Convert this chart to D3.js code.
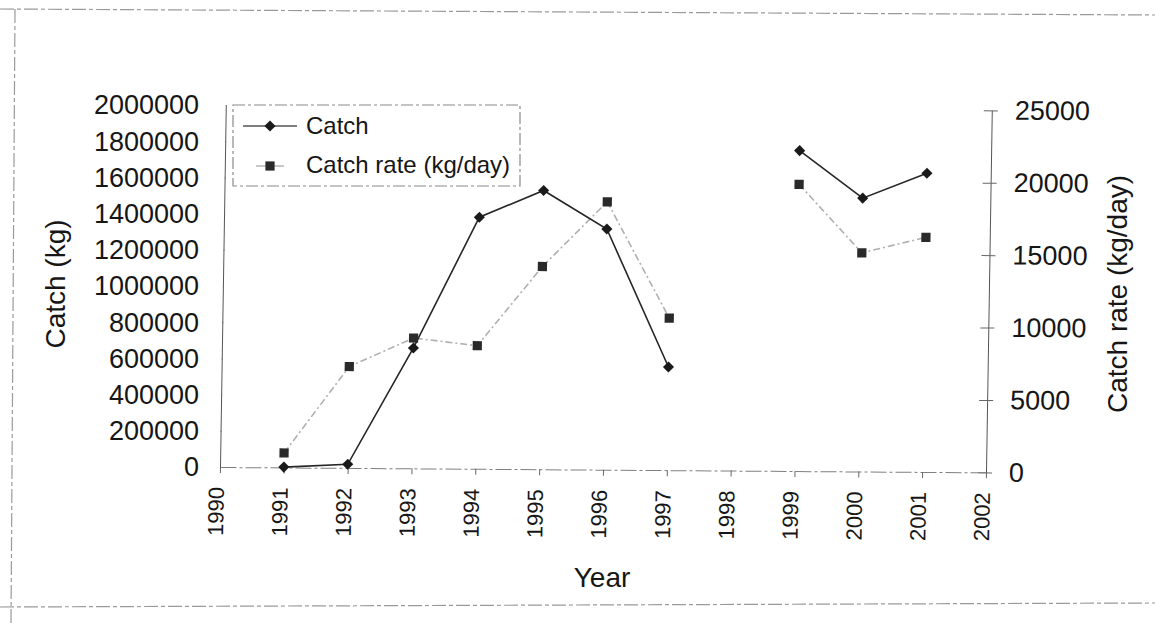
<html>
<script src='https://d3js.org/d3.v7.min.js'></script>
<head>
    <style>
        body { margin: 0; background: #fff; }
        text { font-family: "Liberation Sans", Arial, sans-serif; fill: #161616; }
    </style>
</head>
<body>
<svg width=1155 height=623></svg>
<script>
// values
const years = [1991, 1992, 1993, 1994, 1995, 1996, 1997, 1998, 1999, 2000, 2001];
const catchKg = [2000, 20000, 665000, 1390000, 1540000, 1330000, 570000, null, 1770000, 1510000, 1650000];
const catchRate = [1000, 7000, 9000, 8500, 14000, 18500, 10500, null, 19800, 15100, 16200];

const yearTicks = [1990, 1991, 1992, 1993, 1994, 1995, 1996, 1997, 1998, 1999, 2000, 2001, 2002];
const leftTicks = [0, 200000, 400000, 600000, 800000, 1000000, 1200000, 1400000, 1600000, 1800000, 2000000];
const rightTicks = [0, 5000, 10000, 15000, 20000, 25000];

const x0 = 220, x1 = 986, yBottom = 467, yTop = 105;

const svg = d3.select("svg");

// faint frame of the scanned page
svg.append("path")
    .attr("d", "M0,9 L1155,15 M15,9 L11,623 M0,607 L1155,603")
    .attr("fill", "none")
    .attr("stroke", "#9a9a9a")
    .attr("stroke-width", 1.2)
    .attr("stroke-dasharray", "14,3,4,3");

const xs = d3.scaleLinear().domain([1990, 2002]).range([x0, x1]);
const yL = d3.scaleLinear().domain([0, 2000000]).range([yBottom, yTop]);
const yR = d3.scaleLinear().domain([0, 25000]).range([yBottom, yTop]);

// the scan is a little skewed, mimic that on the plot area
var plot = svg.append("g")
    .attr("transform", "translate(" + x0 + "," + yBottom + ") matrix(1,0.007,-0.016,1,0,0) translate(" + (-x0) + "," + (-yBottom) + ")");

// left axis (line + ticks only)
var leftAxis = plot.append("g")
    .attr("transform", "translate(" + x0 + ",0)")
    .call(d3.axisLeft(yL).tickValues(leftTicks).tickFormat("").tickSizeInner(7).tickSizeOuter(0));
leftAxis.select(".domain").attr("stroke", "#555");
leftAxis.selectAll(".tick line").attr("stroke", "#666").attr("x2", 1);

// right axis
var rightAxis = plot.append("g")
    .attr("transform", "translate(" + x1 + ",0)")
    .call(d3.axisRight(yR).tickValues(rightTicks).tickFormat(d3.format("d")).tickSizeInner(7).tickSizeOuter(0).tickPadding(16));
rightAxis.select(".domain").attr("stroke", "#555");
rightAxis.selectAll(".tick line").attr("stroke", "#666").attr("x1", -8).attr("x2", 6);
rightAxis.selectAll(".tick text")
    .style("font-size", "27px")
    .attr("fill", "#161616")
    .style("font-family", "Liberation Sans, Arial, sans-serif");

// x axis
var xAxis = plot.append("g")
    .attr("transform", "translate(0," + yBottom + ")")
    .call(d3.axisBottom(xs).tickValues(yearTicks).tickFormat(d3.format("d")).tickSizeInner(6).tickSizeOuter(0));
xAxis.select(".domain").attr("stroke", "#808080").attr("stroke-dasharray", "16,3,3,3");
xAxis.selectAll(".tick line").attr("stroke", "#666");
xAxis.selectAll(".tick text")
    .attr("transform", "rotate(-90)")
    .attr("x", -20)
    .attr("y", -4)
    .attr("dy", "0.35em")
    .style("text-anchor", "end")
    .style("font-size", "22px")
    .attr("fill", "#161616")
    .style("font-family", "Liberation Sans, Arial, sans-serif");

// catch rate series (dashed grey line, squares)
var rateData = years.map(function(y, i) { return {year: y, v: catchRate[i]}; });
var catchData = years.map(function(y, i) { return {year: y, v: catchKg[i]}; });

plot.append("path")
    .datum(rateData)
    .attr("fill", "none")
    .attr("stroke", "#b0b0b0")
    .attr("stroke-width", 1.6)
    .attr("stroke-dasharray", "7,3,2,3")
    .attr("d", d3.line().defined(function(d) { return d.v != null; })
        .x(function(d) { return xs(d.year); })
        .y(function(d) { return yR(d.v); }));

// catch series (solid black line, diamonds)
plot.append("path")
    .datum(catchData)
    .attr("fill", "none")
    .attr("stroke", "#262626")
    .attr("stroke-width", 1.6)
    .attr("d", d3.line().defined(function(d) { return d.v != null; })
        .x(function(d) { return xs(d.year); })
        .y(function(d) { return yL(d.v); }));

plot.selectAll(".sq")
    .data(rateData.filter(function(d) { return d.v != null; }))
    .enter()
    .append("path")
    .attr("d", d3.symbol().type(d3.symbolSquare).size(85))
    .attr("transform", function(d) { return "translate(" + xs(d.year) + "," + yR(d.v) + ")"; })
    .attr("fill", "#2a2a2a");

plot.selectAll(".dia")
    .data(catchData.filter(function(d) { return d.v != null; }))
    .enter()
    .append("path")
    .attr("d", d3.symbol().type(d3.symbolSquare).size(62))
    .attr("transform", function(d) { return "translate(" + xs(d.year) + "," + yL(d.v) + ") rotate(45)"; })
    .attr("fill", "#1a1a1a");

// left tick labels
svg.append("g").selectAll("text")
    .data(leftTicks)
    .enter()
    .append("text")
    .attr("x", 199)
    .attr("y", function(d) { return yL(d); })
    .attr("dy", "0.35em")
    .attr("text-anchor", "end")
    .style("font-size", "27px")
    .text(function(d) { return d; });

// axis titles
svg.append("text")
    .attr("transform", "translate(65,284) rotate(-90)")
    .attr("text-anchor", "middle")
    .style("font-size", "28px")
    .text("Catch (kg)");

svg.append("text")
    .attr("transform", "translate(1127,294) rotate(-90)")
    .attr("text-anchor", "middle")
    .style("font-size", "28px")
    .text("Catch rate (kg/day)");

svg.append("text")
    .attr("x", 602)
    .attr("y", 587)
    .attr("text-anchor", "middle")
    .style("font-size", "28px")
    .text("Year");

// legend
var legend = svg.append("g");
legend.append("rect")
    .attr("x", 233).attr("y", 105)
    .attr("width", 287).attr("height", 81)
    .attr("fill", "none")
    .attr("stroke", "#8a8a8a")
    .attr("stroke-width", 1.2)
    .attr("stroke-dasharray", "12,3,3,3");

legend.append("line")
    .attr("x1", 243).attr("x2", 297).attr("y1", 126).attr("y2", 126)
    .attr("stroke", "#555").attr("stroke-width", 1.4);
legend.append("path")
    .attr("d", d3.symbol().type(d3.symbolSquare).size(62))
    .attr("transform", "translate(270,126) rotate(45)")
    .attr("fill", "#1a1a1a");
legend.append("text")
    .attr("x", 306).attr("y", 134)
    .style("font-size", "24px")
    .text("Catch");

legend.append("line")
    .attr("x1", 256).attr("x2", 284).attr("y1", 166).attr("y2", 166)
    .attr("stroke", "#b0b0b0").attr("stroke-width", 1.4);
legend.append("path")
    .attr("d", d3.symbol().type(d3.symbolSquare).size(85))
    .attr("transform", "translate(270,166)")
    .attr("fill", "#2a2a2a");
legend.append("text")
    .attr("x", 306).attr("y", 173)
    .style("font-size", "24px")
    .text("Catch rate (kg/day)");
</script>
</body>
</html>
